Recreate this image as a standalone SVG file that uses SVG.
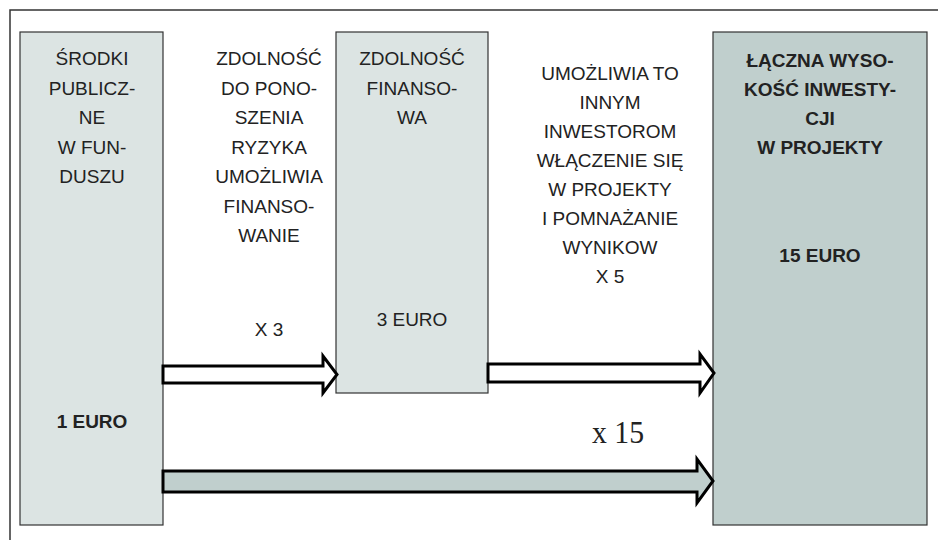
<svg xmlns="http://www.w3.org/2000/svg" width="938" height="540" viewBox="0 0 938 540">
<style>
.t{font-family:"Liberation Sans",Arial,sans-serif;font-size:19px;fill:#222;text-anchor:middle}
.b{font-weight:bold}
.box{stroke:#333;stroke-width:1.2}
.light{fill:#dce4e3}
.dark{fill:#c0cfcd}
.arr{stroke:#000;stroke-width:3;stroke-linejoin:miter}
</style>
<rect x="0" y="0" width="938" height="540" fill="#fff"/>
<rect x="10" y="10" width="940" height="545" fill="none" stroke="#333" stroke-width="1.5"/>
<g id="node-srodki">
<rect class="box light" x="20" y="32" width="143" height="493"/>
<text class="t" x="92" y="65">ŚRODKI</text>
<text class="t" x="92" y="94.5">PUBLICZ-</text>
<text class="t" x="92" y="124">NE</text>
<text class="t" x="92" y="153.5">W FUN-</text>
<text class="t" x="92" y="183">DUSZU</text>
<text class="t b" x="92" y="428">1 EURO</text>
</g>
<g id="label-zdolnosc-ryzyka">
<text class="t" x="269" y="65">ZDOLNOŚĆ</text>
<text class="t" x="269" y="94.5">DO PONO-</text>
<text class="t" x="269" y="124">SZENIA</text>
<text class="t" x="269" y="153.5">RYZYKA</text>
<text class="t" x="269" y="183">UMOŻLIWIA</text>
<text class="t" x="269" y="212.5">FINANSO-</text>
<text class="t" x="269" y="242">WANIE</text>
<text class="t" x="269" y="336">X 3</text>
</g>
<g id="node-zdolnosc-finansowa">
<rect class="box light" x="336" y="32" width="152" height="361"/>
<text class="t" x="412" y="65">ZDOLNOŚĆ</text>
<text class="t" x="412" y="94.5">FINANSO-</text>
<text class="t" x="412" y="124">WA</text>
<text class="t" x="412" y="326">3 EURO</text>
</g>
<g id="label-umozliwia">
<text class="t" x="610" y="80">UMOŻLIWIA TO</text>
<text class="t" x="610" y="109">INNYM</text>
<text class="t" x="610" y="138">INWESTOROM</text>
<text class="t" x="610" y="167">WŁĄCZENIE SIĘ</text>
<text class="t" x="610" y="196">W PROJEKTY</text>
<text class="t" x="610" y="225">I POMNAŻANIE</text>
<text class="t" x="610" y="254">WYNIKOW</text>
<text class="t" x="610" y="283">X 5</text>
</g>
<g id="node-laczna">
<rect class="box dark" x="713" y="32" width="214" height="493"/>
<text class="t b" x="820" y="67">ŁĄCZNA WYSO-</text>
<text class="t b" x="820" y="96">KOŚĆ INWESTY-</text>
<text class="t b" x="820" y="125">CJI</text>
<text class="t b" x="820" y="154">W PROJEKTY</text>
<text class="t b" x="820" y="262">15 EURO</text>
</g>
<g id="connectors">
<path class="arr" fill="#fff" d="M163,366 H323 V356 L337,374.5 L323,393 V383 H163 Z"/>
<path class="arr" fill="#fff" d="M488,364 H700 V354 L714,373 L700,393 V382 H488 Z"/>
<path class="arr" fill="#c0cfcd" d="M163,471 H697 V459 L713,481 L697,503 V492 H163 Z"/>
<text x="618" y="443" font-family="Liberation Serif,Times New Roman,serif" font-size="32" fill="#222" text-anchor="middle" textLength="52" lengthAdjust="spacingAndGlyphs">x 15</text>
</g>
</svg>
